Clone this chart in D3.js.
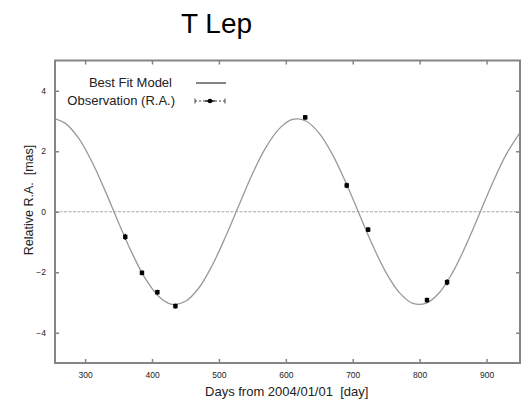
<!DOCTYPE html>
<html>
<head>
<meta charset="utf-8">
<script src="https://cdn.jsdelivr.net/npm/d3@7"></script>
<style>
  html, body { margin: 0; padding: 0; background: #fff; }
  text { font-family: "Liberation Sans", Arial, sans-serif; }
</style>
</head>
<body>
<svg id="chart" width="522" height="400"></svg>
<script>
// ---- data ----
const title = "T Lep";
const xTicks = [300, 400, 500, 600, 700, 800, 900];
const yTicks = [-4, -2, 0, 2, 4];

// Best-fit model curve (day, relative R.A. in mas)
const modelDays = [255, 270, 290, 310, 330, 350, 370, 390, 410, 430, 450, 470, 490, 510, 530, 550, 570, 590, 610, 630, 650, 670, 690, 710, 730, 750, 770, 790, 810, 830, 850, 870, 890, 910, 930, 950];
const modelRA   = [3.07, 2.93, 2.44, 1.66, 0.69, -0.36, -1.36, -2.21, -2.80, -3.06, -2.96, -2.52, -1.77, -0.82, 0.22, 1.25, 2.12, 2.74, 3.05, 3.00, 2.59, 1.88, 0.95, -0.09, -1.12, -2.02, -2.68, -3.03, -3.02, -2.66, -1.98, -1.07, -0.04, 1.00, 1.92, 2.62];

// Observations
const obsDays = [360, 385, 408, 435, 629, 691, 723, 811, 841];
const obsRA   = [-0.83, -2.02, -2.66, -3.12, 3.12, 0.87, -0.59, -2.92, -2.33];
const obsErr  = [0.10, 0.08, 0.08, 0.08, 0.08, 0.09, 0.08, 0.08, 0.10];

// ---- drawing ----
const svg = d3.select("#chart");
const L = 55, R = 520, T = 60.5, B = 363;
const x = d3.scaleLinear().domain([255, 950]).range([L, R]);
const y = d3.scaleLinear().domain([-5, 5]).range([B, T]);

const frameColor = "#858585";

// title
svg.append("text")
  .attr("x", 216.5).attr("y", 32.5)
  .attr("text-anchor", "middle")
  .attr("font-size", 28).attr("fill", "#000")
  .text(title);

// zero line
svg.append("line")
  .attr("x1", L).attr("x2", R)
  .attr("y1", y(0)).attr("y2", y(0))
  .attr("stroke", "#a8a8a8").attr("stroke-width", 1.2)
  .attr("stroke-dasharray", "3,1.5");

// clip for curve
svg.append("clipPath").attr("id", "clip")
  .append("rect").attr("x", L).attr("y", T).attr("width", R - L).attr("height", B - T);

// model curve
const line = d3.line()
  .x((d, i) => x(modelDays[i]))
  .y((d, i) => y(modelRA[i]))
  .curve(d3.curveCatmullRom.alpha(0.5));
svg.append("path")
  .datum(modelRA)
  .attr("clip-path", "url(#clip)")
  .attr("d", line)
  .attr("fill", "none")
  .attr("stroke", "#999")
  .attr("stroke-width", 1.3);

// axes (ticks inward on all four sides)
const tickStyle = g => {
  g.select(".domain").remove();
  g.selectAll(".tick line").attr("stroke", frameColor).attr("stroke-width", 1.5);
  g.selectAll(".tick text").attr("font-size", 8.5).attr("fill", "#222")
    .attr("font-family", "'Liberation Sans', Arial, sans-serif");
};
svg.append("g").attr("transform", `translate(0,${B})`)
  .call(d3.axisBottom(x).tickValues(xTicks).tickSize(-4).tickPadding(9))
  .call(tickStyle);
svg.append("g").attr("transform", `translate(0,${T})`)
  .call(d3.axisTop(x).tickValues(xTicks).tickSize(-4).tickFormat(""))
  .call(tickStyle);
svg.append("g").attr("transform", `translate(${L},0)`)
  .call(d3.axisLeft(y).tickValues(yTicks).tickSize(-4).tickPadding(9))
  .call(tickStyle);
svg.append("g").attr("transform", `translate(${R},0)`)
  .call(d3.axisRight(y).tickValues(yTicks).tickSize(-4).tickFormat(""))
  .call(tickStyle);

// frame
svg.append("rect")
  .attr("x", L).attr("y", T).attr("width", R - L).attr("height", B - T)
  .attr("fill", "none").attr("stroke", frameColor).attr("stroke-width", 2);

// observation error bars + markers
const obs = svg.append("g");
obsDays.forEach((d, i) => {
  obs.append("line")
    .attr("x1", x(d)).attr("x2", x(d))
    .attr("y1", y(obsRA[i] - obsErr[i])).attr("y2", y(obsRA[i] + obsErr[i]))
    .attr("stroke", "#000").attr("stroke-width", 1.5);
  obs.append("rect")
    .attr("x", x(d) - 2.2).attr("y", y(obsRA[i]) - 2.2)
    .attr("width", 4.4).attr("height", 4.4)
    .attr("fill", "#000");
});

// legend
const lg = svg.append("g");
lg.append("text").attr("x", 172).attr("y", 87.3)
  .attr("text-anchor", "end").attr("font-size", 13).attr("fill", "#222")
  .text("Best Fit Model");
lg.append("line").attr("x1", 196).attr("x2", 226).attr("y1", 83).attr("y2", 83)
  .attr("stroke", "#777").attr("stroke-width", 1.8);
lg.append("text").attr("x", 175).attr("y", 104.8)
  .attr("text-anchor", "end").attr("font-size", 13).attr("fill", "#222")
  .text("Observation (R.A.)");
lg.append("line").attr("x1", 195).attr("x2", 225).attr("y1", 101).attr("y2", 101)
  .attr("stroke", "#444").attr("stroke-width", 1).attr("stroke-dasharray", "2,2");
[195, 225].forEach(cx => lg.append("line")
  .attr("x1", cx).attr("x2", cx).attr("y1", 98.5).attr("y2", 103.5)
  .attr("stroke", "#444").attr("stroke-width", 1));
lg.append("circle").attr("cx", 210).attr("cy", 101).attr("r", 2.3).attr("fill", "#000");
lg.append("line").attr("x1", 205).attr("x2", 215).attr("y1", 101).attr("y2", 101)
  .attr("stroke", "#000").attr("stroke-width", 1.3);

// axis titles
svg.append("text")
  .attr("x", 286.7).attr("y", 396)
  .attr("text-anchor", "middle").attr("font-size", 13).attr("fill", "#222")
  .attr("xml:space", "preserve")
  .text("Days from 2004/01/01  [day]");
svg.append("text")
  .attr("transform", "translate(33,200) rotate(-90)")
  .attr("text-anchor", "middle").attr("font-size", 12.5).attr("fill", "#222")
  .attr("xml:space", "preserve")
  .text("Relative R.A.  [mas]");
</script>
</body>
</html>
